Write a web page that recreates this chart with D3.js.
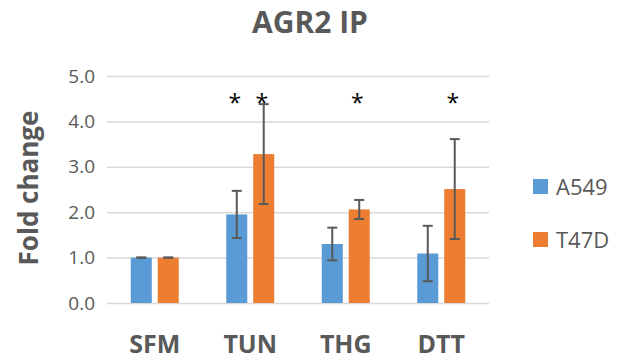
<!DOCTYPE html>
<html>
<head>
<meta charset="utf-8">
<script src="https://cdn.jsdelivr.net/npm/d3@7"></script>
<style>
  body { margin: 0; background: #fff; }
  text { font-family: "Open Sans", sans-serif; fill: #595959; }
</style>
</head>
<body>
<div id="chart"></div>
<script>
// data
const categories = ['SFM', 'TUN', 'THG', 'DTT'];
const seriesNames = ['A549', 'T47D'];
const a549 = [1.0, 1.95, 1.30, 1.09];
const a549Err = [0.0, 0.52, 0.36, 0.61];
const t47d = [1.0, 3.28, 2.06, 2.51];
const t47dErr = [0.0, 1.10, 0.21, 1.10];
// significance markers: [category, series index]
const stars = [['TUN', 0], ['TUN', 1], ['THG', 1], ['DTT', 1]];
const yTicks = [0, 1, 2, 3, 4, 5];

const colors = ['#5B9BD5', '#ED7D31'];
const width = 621, height = 363;
const margin = {top: 76, left: 107, right: 132, bottom: 60};

var svg = d3.select('#chart')
    .append('svg')
    .attr('width', width)
    .attr('height', height);

var x0 = d3.scaleBand()
    .domain(categories)
    .range([margin.left, width - margin.right])
    .paddingInner(0)
    .paddingOuter(0);

var x1 = d3.scaleBand()
    .domain([0, 1])
    .range([x0.bandwidth() / 2 - 24, x0.bandwidth() / 2 + 24])
    .paddingInner(0.22)
    .paddingOuter(0);

var y = d3.scaleLinear()
    .domain([0, 5])
    .range([height - margin.bottom, margin.top]);

// title
svg.append('text')
    .attr('x', 310)
    .attr('y', 33)
    .attr('text-anchor', 'middle')
    .style('font-size', '30px')
    .style('font-weight', 'bold')
    .text('AGR2 IP');

// grid + y axis
var yAxis = d3.axisLeft(y)
    .tickValues(yTicks)
    .tickFormat(d3.format('.1f'))
    .tickSize(-(width - margin.left - margin.right))
    .tickPadding(12);

var gy = svg.append('g')
    .attr('transform', 'translate(' + margin.left + ',0)')
    .call(yAxis);
gy.select('.domain').remove();
gy.selectAll('line').attr('stroke', '#D9D9D9').attr('stroke-width', 1.5);
gy.selectAll('text')
    .style('font-size', '19px')
    .style('fill', '#595959');

svg.append('text')
    .attr('transform', 'translate(38,' + 188 + ') rotate(-90)')
    .attr('text-anchor', 'middle')
    .style('font-size', '26px')
    .style('font-weight', 'bold')
    .text('Fold change');

// x labels
svg.append('g')
    .selectAll('text')
    .data(categories)
    .enter()
    .append('text')
    .attr('x', function (d) { return x0(d) + x0.bandwidth() / 2; })
    .attr('y', 353)
    .attr('text-anchor', 'middle')
    .style('font-size', '25px')
    .style('font-weight', 'bold')
    .text(function (d) { return d; });

var series = [
    {vals: a549, err: a549Err},
    {vals: t47d, err: t47dErr}
];

var groups = svg.append('g')
    .selectAll('g')
    .data(categories)
    .enter()
    .append('g')
    .attr('transform', function (d) { return 'translate(' + x0(d) + ',0)'; });

groups.selectAll('rect')
    .data(function (d, i) {
        return series.map(function (s, k) { return {k: k, v: s.vals[i]}; });
    })
    .enter()
    .append('rect')
    .attr('x', function (d) { return x1(d.k); })
    .attr('width', x1.bandwidth())
    .attr('y', function (d) { return y(d.v); })
    .attr('height', function (d) { return y(0) - y(d.v); })
    .attr('fill', function (d) { return colors[d.k]; });

// error bars
var capW = 5;
var eb = groups.selectAll('g.err')
    .data(function (d, i) {
        return series.map(function (s, k) { return {k: k, v: s.vals[i], e: s.err[i]}; });
    })
    .enter()
    .append('g')
    .attr('class', 'err')
    .attr('stroke', '#595959')
    .attr('stroke-width', 2);

eb.append('line')
    .attr('x1', function (d) { return x1(d.k) + x1.bandwidth() / 2; })
    .attr('x2', function (d) { return x1(d.k) + x1.bandwidth() / 2; })
    .attr('y1', function (d) { return y(d.v + d.e); })
    .attr('y2', function (d) { return y(d.v - d.e); });
eb.append('line')
    .attr('x1', function (d) { return x1(d.k) + x1.bandwidth() / 2 - capW; })
    .attr('x2', function (d) { return x1(d.k) + x1.bandwidth() / 2 + capW; })
    .attr('y1', function (d) { return y(d.v + d.e); })
    .attr('y2', function (d) { return y(d.v + d.e); });
eb.append('line')
    .attr('x1', function (d) { return x1(d.k) + x1.bandwidth() / 2 - capW; })
    .attr('x2', function (d) { return x1(d.k) + x1.bandwidth() / 2 + capW; })
    .attr('y1', function (d) { return y(d.v - d.e); })
    .attr('y2', function (d) { return y(d.v - d.e); });

// stars
svg.append('g')
    .selectAll('text')
    .data(stars)
    .enter()
    .append('text')
    .attr('x', function (d) { return x0(d[0]) + x1(d[1]) + x1.bandwidth() / 2 - 2; })
    .attr('y', y(4.22))
    .attr('text-anchor', 'middle')
    .style('font-size', '23px')
    .style('fill', '#000')
    .text('*');

// legend
var legend = svg.append('g')
    .selectAll('g')
    .data(seriesNames)
    .enter()
    .append('g')
    .attr('transform', function (d, i) { return 'translate(533,' + (179 + i * 53) + ')'; });
legend.append('rect')
    .attr('width', 15)
    .attr('height', 15)
    .attr('fill', function (d, i) { return colors[i]; });
legend.append('text')
    .attr('x', 23)
    .attr('y', 8)
    .attr('dy', '0.35em')
    .style('font-size', '22px')
    .text(function (d) { return d; });
</script>
</body>
</html>
